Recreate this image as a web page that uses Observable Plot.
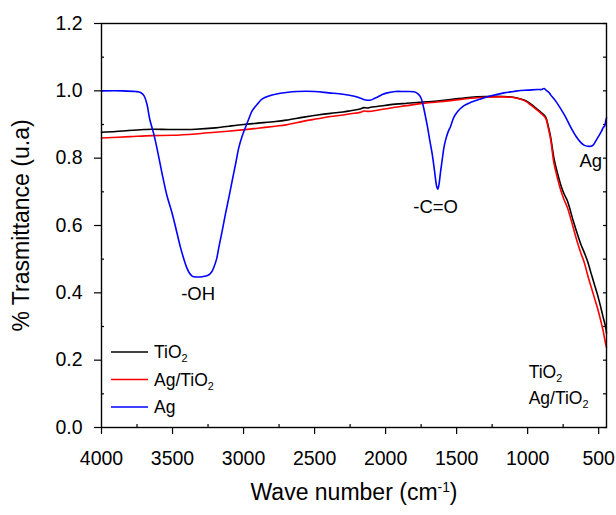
<!DOCTYPE html>
<html>
<head>
<meta charset="utf-8">
<script src="https://cdn.jsdelivr.net/npm/d3@7"></script>
<script src="https://cdn.jsdelivr.net/npm/@observablehq/plot@0.6"></script>
<style>
  html, body { margin: 0; padding: 0; background: white; }
  #chart svg { display: block; }
</style>
</head>
<body>
<div id="chart"></div>
<script>
// ---- data ----
const agWave = [4000,3850,3760,3725,3700,3680,3660,3632,3600,3573,3540,3502,3470,3444,3420,3400,3380,3360,3330,3290,3250,3225,3209,3190,3174,3150,3127,3100,3080,3055,3033,3010,2986,2960,2939,2900,2868,2820,2775,2700,2622,2500,2400,2300,2220,2176,2140,2110,2080,2059,2020,1988,1930,1871,1800,1770,1750,1735,1720,1706,1690,1671,1655,1640,1633,1625,1613,1600,1590,1577,1560,1542,1519,1490,1448,1400,1331,1250,1167,1100,1049,1000,932,900,885,870,850,838,800,768,730,697,660,627,600,568,545,533,515,498,480,467,458,451,445];
const agT = [1.0,1.0,0.998,0.995,0.985,0.96,0.915,0.872,0.81,0.753,0.69,0.635,0.58,0.535,0.50,0.475,0.458,0.449,0.447,0.448,0.452,0.462,0.476,0.50,0.535,0.585,0.635,0.69,0.733,0.785,0.832,0.865,0.892,0.92,0.941,0.962,0.976,0.985,0.99,0.995,0.998,0.998,0.994,0.99,0.984,0.978,0.973,0.972,0.977,0.981,0.99,0.994,0.998,0.998,0.997,0.99,0.978,0.955,0.925,0.895,0.855,0.81,0.76,0.715,0.708,0.72,0.76,0.80,0.83,0.855,0.878,0.895,0.922,0.94,0.956,0.966,0.976,0.986,0.994,0.998,1.001,1.002,1.004,1.004,1.007,1.002,0.995,0.988,0.968,0.947,0.92,0.892,0.865,0.847,0.838,0.835,0.837,0.842,0.855,0.867,0.88,0.892,0.895,0.91,0.92];

const tiWave = [4000,3900,3810,3700,3643,3500,3338,3200,3103,3000,2900,2775,2700,2575,2480,2387,2300,2246,2180,2153,2130,2106,2050,1965,1850,1754,1636,1542,1401,1300,1167,1100,1049,1010,979,940,908,873,855,838,815,790,768,745,721,680,650,627,600,580,555,530,510,490,470,451,445];
const tiT = [0.877,0.879,0.882,0.885,0.886,0.885,0.886,0.890,0.895,0.900,0.904,0.909,0.913,0.922,0.928,0.933,0.937,0.941,0.946,0.950,0.949,0.951,0.954,0.959,0.963,0.966,0.970,0.974,0.981,0.983,0.983,0.981,0.976,0.970,0.961,0.948,0.937,0.922,0.895,0.862,0.800,0.755,0.722,0.695,0.674,0.615,0.575,0.546,0.518,0.496,0.460,0.425,0.397,0.365,0.330,0.298,0.280];

const agtiWave = [4000,3800,3643,3500,3338,3200,3010,2900,2775,2700,2575,2480,2387,2300,2246,2180,2153,2120,2050,1965,1850,1754,1636,1542,1401,1300,1167,1100,1049,1010,979,940,908,873,855,838,815,790,768,745,721,680,650,627,600,580,555,530,510,490,470,451,445];
const agtiT = [0.860,0.864,0.867,0.868,0.872,0.877,0.884,0.889,0.895,0.899,0.910,0.917,0.924,0.928,0.932,0.936,0.940,0.939,0.943,0.949,0.956,0.962,0.967,0.971,0.978,0.981,0.982,0.980,0.975,0.968,0.958,0.945,0.934,0.918,0.890,0.855,0.785,0.740,0.706,0.678,0.654,0.595,0.550,0.520,0.488,0.456,0.420,0.385,0.357,0.325,0.290,0.248,0.238];

const seriesNames = ["TiO2", "Ag/TiO2", "Ag"];
const seriesColors = ["#000000", "#ff0000", "#0000ff"];

const xTicks = [4000,3500,3000,2500,2000,1500,1000,500];
const xMinorTicks = [3750,3250,2750,2250,1750,1250,750];
const yTicks = [0,0.2,0.4,0.6,0.8,1.0,1.2];
const yMinorTicks = [0.1,0.3,0.5,0.7,0.9,1.1];

const annText = ["-OH", "-C=O", "Ag"];
const annWave = [3320, 1648, 556];
const annT = [0.395, 0.656, 0.79];

const sideText = ["TiO2", "Ag/TiO2"];
const sideWave = [993, 993];
const sideT = [0.163, 0.086];

const xLabel = "Wave number (cm-1)";
const yLabel = "% Trasmittance (u.a)";

// ---- build tables ----
const toRows = (w, t) => w.map((d, i) => ({w: d, t: t[i]}));
const tiRows = toRows(tiWave, tiT);
const agtiRows = toRows(agtiWave, agtiT);
const agRows = toRows(agWave, agT);
const annRows = annText.map((s, i) => ({s, w: annWave[i], t: annT[i]}));
const sideRows = sideText.map((s, i) => ({s, w: sideWave[i], t: sideT[i]}));

const font = "'Liberation Sans', Arial, Helvetica, sans-serif";

const plot = Plot.plot({
  width: 616,
  height: 515,
  marginLeft: 101,
  marginRight: 10,
  marginTop: 23,
  marginBottom: 88,
  style: {fontFamily: font, fontSize: "19px", background: "white", color: "black"},
  x: {domain: [4000, 445]},
  y: {domain: [0, 1.2]},
  marks: [
    Plot.axisX({ticks: xTicks, tickSize: 7, tickPadding: 17, tickFormat: d => String(d), label: null, fontSize: 19.5, strokeWidth: 1.2}),
    Plot.axisX({ticks: xMinorTicks, tickSize: -3, tickFormat: () => "", label: null, strokeWidth: 1.2}),
    Plot.axisY({ticks: yTicks, tickSize: 7, tickPadding: 12, tickFormat: d => d.toFixed(1), label: null, fontSize: 19.5, strokeWidth: 1.2}),
    Plot.axisY({ticks: yMinorTicks, tickSize: -3, tickFormat: () => "", label: null, strokeWidth: 1.2}),
    Plot.axisY({anchor: "right", ticks: yTicks.concat(yMinorTicks), tickSize: -4, tickFormat: () => "", label: null, strokeWidth: 1.2}),
    Plot.line(tiRows, {x: "w", y: "t", stroke: seriesColors[0], strokeWidth: 1.6, curve: "catmull-rom"}),
    Plot.line(agtiRows, {x: "w", y: "t", stroke: seriesColors[1], strokeWidth: 1.6, curve: "catmull-rom"}),
    Plot.line(agRows, {x: "w", y: "t", stroke: seriesColors[2], strokeWidth: 1.6, curve: "catmull-rom"}),
    Plot.frame({stroke: "black", strokeWidth: 1.4}),
    Plot.text(annRows, {x: "w", y: "t", text: "s", fontSize: 18.5, textAnchor: "middle", fill: "black"}),
    Plot.text(sideRows, {x: "w", y: "t", text: "s", fontSize: 17.5, textAnchor: "start", fill: "black"}),
    Plot.text([xLabel], {text: d => d, frameAnchor: "bottom", textAnchor: "middle", dy: 72, fontSize: 23, fill: "black"}),
    Plot.text([yLabel], {text: d => d, frameAnchor: "left", textAnchor: "middle", dx: -80, rotate: -90, fontSize: 23, fill: "black"})
  ]
});

// legend (inside plot, bottom-left)
const svg = d3.select(plot);
const leg = svg.append("g").attr("font-family", font).attr("font-size", 17.5).attr("text-anchor", "start");
const legY = [352, 379.5, 407];
seriesNames.forEach((name, i) => {
  leg.append("line").attr("x1", 111).attr("x2", 148).attr("y1", legY[i]).attr("y2", legY[i])
    .attr("stroke", seriesColors[i]).attr("stroke-width", 1.6);
  leg.append("text").attr("x", 154).attr("y", legY[i]).attr("dy", "0.35em")
    .attr("text-anchor", "start").attr("fill", "black").text(name);
});

// sub/superscripts
plot.querySelectorAll("text").forEach(t => {
  if (t.querySelector("tspan")) return;
  const s = t.textContent;
  if (!/O2|cm-1/.test(s)) return;
  const parts = s.split(/(O2|cm-1)/);
  t.textContent = "";
  const NS = "http://www.w3.org/2000/svg";
  parts.forEach(p => {
    if (!p) return;
    if (p === "O2") {
      t.appendChild(document.createTextNode("O"));
      const sp = document.createElementNS(NS, "tspan");
      sp.setAttribute("baseline-shift", "-0.35em");
      sp.setAttribute("font-size", "0.62em");
      sp.textContent = "2";
      t.appendChild(sp);
    } else if (p === "cm-1") {
      t.appendChild(document.createTextNode("cm"));
      const sp = document.createElementNS(NS, "tspan");
      sp.setAttribute("baseline-shift", "0.55em");
      sp.setAttribute("font-size", "0.6em");
      sp.textContent = "-1";
      t.appendChild(sp);
    } else {
      t.appendChild(document.createTextNode(p));
    }
  });
});

document.getElementById("chart").appendChild(plot);
</script>
</body>
</html>
